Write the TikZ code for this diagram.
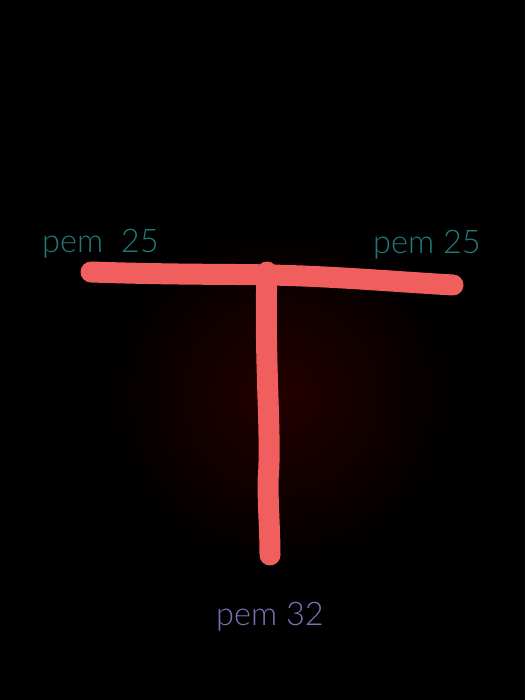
\documentclass[tikz,border=0pt]{standalone}
\usepackage{fontspec}
\setmainfont{Lato Light}
\begin{document}
\begin{tikzpicture}[x=1pt,y=-1pt,
  stroke/.style={draw=penred,line width=21pt,line cap=round,line join=round},
  lbl/.style={font=\fontsize{32.5}{32.5}\selectfont,inner sep=0pt,anchor=base west}]
\definecolor{penred}{HTML}{F05E5E}
\definecolor{tealtxt}{HTML}{1F7B7B}
\definecolor{lavtxt}{HTML}{7B72B2}
\definecolor{glow}{HTML}{240000}
\fill[black] (0,0) rectangle (525,700);
\useasboundingbox (0,0) rectangle (525,700);
\shade[inner color=glow,outer color=black] (280,395) circle (175);
\coordinate (L) at (91,272);
\coordinate (M) at (268,275);
\coordinate (R) at (453,285);
\coordinate (T) at (267,272);
\coordinate (B) at (270,555);
\draw[stroke] (L) .. controls (180,275) and (240,274) .. (M) .. controls (330,276) and (400,282) .. (R);
\draw[stroke] (T) .. controls (264,360) and (272,440) .. (268,480) .. controls (268,510) and (270,530) .. (B);
\node[lbl,text=tealtxt] (tl) at (42,253) {pem\ \ 25};
\node[lbl,text=tealtxt] (tr) at (373,254) {pem 25};
\node[lbl,text=lavtxt] (bt) at (216,625) {pem 32};
\end{tikzpicture}
\end{document}
